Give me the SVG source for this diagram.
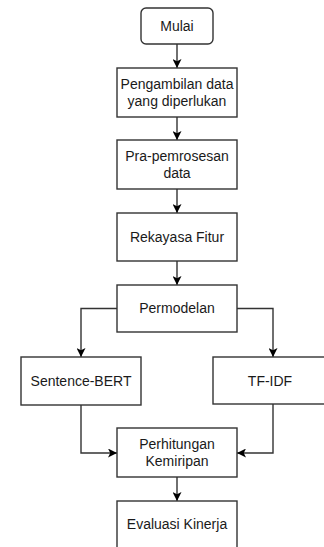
<svg xmlns="http://www.w3.org/2000/svg" width="324" height="547" viewBox="0 0 324 547">
<style>
.box{fill:#fff;stroke:#333;stroke-width:1.4}
.lbl{font-family:"Liberation Sans",Arial,sans-serif;font-size:14px;fill:#1a1a1a;text-anchor:middle}
.edge{fill:none;stroke:#333;stroke-width:1.4}
</style>
<defs>
<marker id="ah" viewBox="0 0 10 10" refX="10" refY="5" markerWidth="9" markerHeight="9" markerUnits="userSpaceOnUse" orient="auto">
<path d="M0,0 L10,5 L0,10 L2.5,5 Z" fill="#000"/>
</marker>
</defs>
<rect width="324" height="547" fill="#fff"/>
<g id="connectors">
<path class="edge" d="M177,44 V68" marker-end="url(#ah)"/>
<path class="edge" d="M177,117 V140" marker-end="url(#ah)"/>
<path class="edge" d="M177,189 V213" marker-end="url(#ah)"/>
<path class="edge" d="M177,261 V285" marker-end="url(#ah)"/>
<path class="edge" d="M117,308.5 H81 V357" marker-end="url(#ah)"/>
<path class="edge" d="M237,308.5 H273 V357" marker-end="url(#ah)"/>
<path class="edge" d="M81,405 V453 H117" marker-end="url(#ah)"/>
<path class="edge" d="M273,404 V453 H237" marker-end="url(#ah)"/>
<path class="edge" d="M177,477 V501" marker-end="url(#ah)"/>
</g>
<g id="mulai">
<rect class="box" x="141" y="8" width="72" height="36" rx="5"/>
<text class="lbl" x="177" y="31">Mulai</text>
</g>
<g id="pengambilan">
<rect class="box" x="117" y="68" width="120" height="49"/>
<text class="lbl" x="177" y="89">Pengambilan data</text>
<text class="lbl" x="177" y="106">yang diperlukan</text>
</g>
<g id="prapemrosesan">
<rect class="box" x="117" y="140" width="120" height="49"/>
<text class="lbl" x="177" y="161">Pra-pemrosesan</text>
<text class="lbl" x="177" y="178">data</text>
</g>
<g id="rekayasa">
<rect class="box" x="117" y="213" width="120" height="48"/>
<text class="lbl" x="177" y="242">Rekayasa Fitur</text>
</g>
<g id="permodelan">
<rect class="box" x="117" y="285" width="120" height="47"/>
<text class="lbl" x="177" y="313">Permodelan</text>
</g>
<g id="sbert">
<rect class="box" x="21" y="357" width="120" height="48"/>
<text class="lbl" x="81" y="386">Sentence-BERT</text>
</g>
<g id="tfidf">
<rect class="box" x="213" y="357" width="120" height="47"/>
<text class="lbl" x="270" y="386">TF-IDF</text>
</g>
<g id="perhitungan">
<rect class="box" x="117" y="428" width="120" height="49"/>
<text class="lbl" x="177" y="449">Perhitungan</text>
<text class="lbl" x="177" y="466">Kemiripan</text>
</g>
<g id="evaluasi">
<rect class="box" x="117" y="501" width="120" height="49"/>
<text class="lbl" x="177" y="529">Evaluasi Kinerja</text>
</g>
</svg>
